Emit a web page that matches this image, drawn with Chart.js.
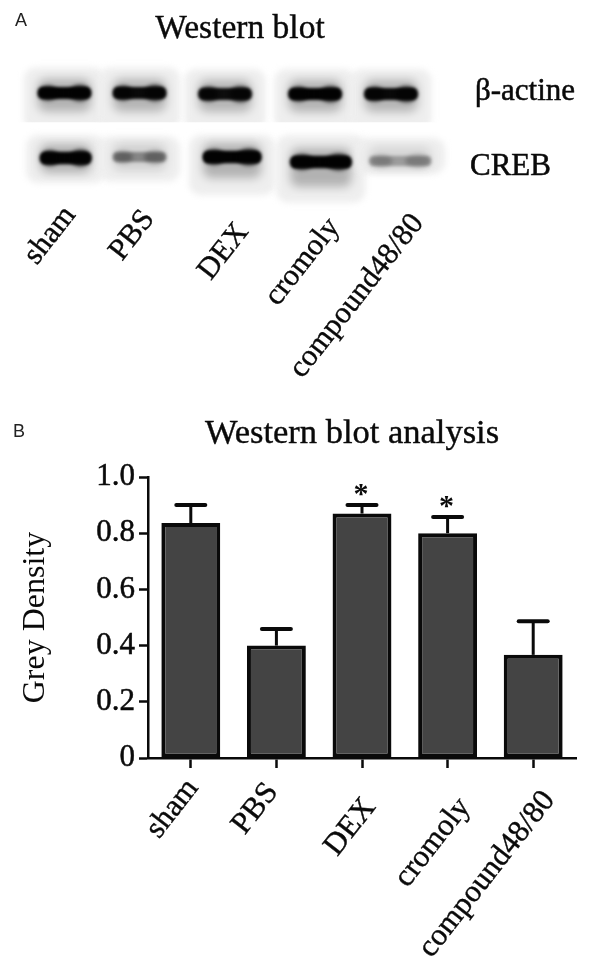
<!DOCTYPE html>
<html><head><meta charset="utf-8">
<style>html,body{margin:0;padding:0;background:#fff}canvas{display:block;position:absolute;left:0}#a{top:0}#b{top:400px}</style>
<script src="https://cdn.jsdelivr.net/npm/chart.js@4/dist/chart.umd.min.js"></script>
</head><body>
<canvas id="a" width="600" height="400"></canvas>
<canvas id="b" width="600" height="569"></canvas>
<script>
const categories = ['sham','PBS','DEX','cromoly','compound48/80'];
const greyDensity = [0.836,0.40,0.87,0.80,0.367];
const errorTop = [0.90,0.459,0.90,0.858,0.487];
const significant = [false,false,true,true,false];
const yTicks = [0,0.2,0.4,0.6,0.8,1.0];
const yTickLabels = ['0','0.2','0.4','0.6','0.8','1.0'];
// blot lanes, gel position in % of blot width/height
const actinLane = [9.5,27.6,48.2,69.9,88.2];
const actinRow = [22,22,22.7,22.7,22.7];
const actinSpan = [13.25,13.25,13.25,13.25,13.25];
const actinSignal = [1,0.96,0.94,1,0.97];
const actinHaloTop = [5,5,6,6,6];
const actinHaloBottom = [41.5,41.5,41.5,41.5,41.5];
const crebLane = [9.8,27.6,49.9,71.3,90.4];
const crebRow = [65.3,64.7,64.7,68,67.3];
const crebSpan = [12.8,13.3,14.5,15.2,15.4];
const crebSignal = [1,0.36,1,1,0.27];
const crebHaloTop = [50,51,50,50,52];
const crebHaloBottom = [82,81,90,95,76];
const rowLabels = ['β-actine','CREB'];

const SERIF = '"Liberation Serif","Times New Roman",serif';
const SANS = '"Liberation Sans",Arial,sans-serif';
const INK = '#0a0a0a';
const LABEL_ANGLE = -52*Math.PI/180;

function text(ctx,s,x,y,font,opt={}){
  ctx.save();ctx.translate(x,y);if(opt.rot)ctx.rotate(opt.rot);
  ctx.font=font;ctx.fillStyle=opt.color||INK;ctx.textAlign=opt.align||'center';ctx.textBaseline=opt.base||'alphabetic';
  ctx.fillText(s,0,0);
  if(opt.heavy){ctx.strokeStyle=opt.color||INK;ctx.lineWidth=opt.heavy;ctx.strokeText(s,0,0);}
  ctx.restore();
}

const blotPlugin={id:'blot',
  beforeDatasetsDraw(chart){
    const ctx=chart.ctx,xs=chart.scales.x,ys=chart.scales.y;
    const pw=v=>xs.getPixelForValue(v)-xs.getPixelForValue(0);
    const halo=(p,w,top,bottom,sig,clip)=>{
      const t=ys.getPixelForValue(top),b=ys.getPixelForValue(bottom);
      ctx.save();
      if(clip){ctx.beginPath();ctx.rect(0,0,600,b);ctx.clip();}
      ctx.filter='blur(3px)';ctx.fillStyle='#eeeeee';
      ctx.beginPath();ctx.roundRect(p.x-w/2-13,t,w+26,(clip?b+8:b)-t,12);ctx.fill();
      ctx.filter='blur(5px)';ctx.fillStyle='rgba(0,0,0,'+(0.2*sig+0.05)+')';
      ctx.beginPath();ctx.roundRect(p.x-w/2+1,p.y-14,w-2,28+(b-t-46)*0.5,8);ctx.fill();
      ctx.restore();
    };
    const band=(p,w,sig,h)=>{
      ctx.save();ctx.filter='blur(1.6px)';
      ctx.globalAlpha=sig;ctx.fillStyle='#030303';
      ctx.beginPath();ctx.roundRect(p.x-w/2+1,p.y-h/2,w-2,h,h/2.4);ctx.fill();
      ctx.restore();
      ctx.save();ctx.filter='blur(2px)';
      ctx.globalAlpha=sig*0.8;ctx.fillStyle='#030303';
      ctx.beginPath();ctx.ellipse(p.x-w*0.3,p.y,w*0.18,h*0.6,0,0,Math.PI*2);ctx.fill();
      ctx.beginPath();ctx.ellipse(p.x+w*0.28,p.y,w*0.2,h*0.66,0,0,Math.PI*2);ctx.fill();
      ctx.restore();
    };
    const a=chart.getDatasetMeta(0).data,c=chart.getDatasetMeta(1).data;
    a.forEach((p,i)=>halo(p,pw(actinSpan[i]),actinHaloTop[i],actinHaloBottom[i],actinSignal[i],true));
    c.forEach((p,i)=>halo(p,pw(crebSpan[i]),crebHaloTop[i],crebHaloBottom[i],crebSignal[i],false));
    a.forEach((p,i)=>band(p,pw(actinSpan[i]),actinSignal[i],12));
    c.forEach((p,i)=>band(p,pw(crebSpan[i]),crebSignal[i],crebSignal[i]<.5?10:12.5));
  },
  afterDraw(chart){
    const ctx=chart.ctx;
    text(ctx,'A',21,26,'18px '+SANS,{color:'#222'});
    text(ctx,'Western blot',240,38,'33.5px '+SERIF,{heavy:.4});
    text(ctx,rowLabels[0],475,100,'31px '+SERIF,{align:'left',heavy:.5});
    text(ctx,rowLabels[1],470,174.5,'31px '+SERIF,{align:'left',heavy:.5});
    const ends=[[70,210],[149,214],[243,227],[334,222],[418,218]];
    categories.forEach((c,i)=>text(ctx,c,ends[i][0],ends[i][1],'30.5px '+SERIF,{align:'right',base:'middle',rot:LABEL_ANGLE,heavy:.4}));
  }
};
new Chart(document.getElementById('a'),{
  type:'scatter',
  data:{datasets:[
    {label:rowLabels[0],data:actinLane.map((x,i)=>({x,y:actinRow[i]})),pointRadius:0},
    {label:rowLabels[1],data:crebLane.map((x,i)=>({x,y:crebRow[i]})),pointRadius:0}
  ]},
  options:{responsive:false,animation:false,
    layout:{padding:{left:25,right:160,top:60,bottom:190}},
    plugins:{legend:{display:false},tooltip:{enabled:false}},
    scales:{x:{type:'linear',display:false,min:0,max:100},y:{type:'linear',display:false,min:0,max:100,reverse:true}}
  },
  plugins:[blotPlugin]
});

const labelNudge=[[2,25],[-4,29],[8,44],[17,44],[16,37]];
const errPlugin={id:'err',
  afterDatasetsDraw(chart){
    const ctx=chart.ctx,ys=chart.scales.y;
    chart.getDatasetMeta(0).data.forEach((b,i)=>{
      const yTop=ys.getPixelForValue(errorTop[i]),yBar=ys.getPixelForValue(greyDensity[i]);
      ctx.save();ctx.strokeStyle=INK;ctx.lineWidth=3;
      ctx.beginPath();ctx.moveTo(b.x,yBar);ctx.lineTo(b.x,yTop);ctx.stroke();
      ctx.lineWidth=4;ctx.lineCap='round';
      ctx.beginPath();ctx.moveTo(b.x-14.5,yTop);ctx.lineTo(b.x+14.5,yTop);ctx.stroke();
      ctx.restore();
      if(significant[i])text(ctx,'*',b.x-1,yTop-2,'bold 30px '+SERIF);
    });
  },
  afterDraw(chart){
    const ctx=chart.ctx,xs=chart.scales.x,ys=chart.scales.y;
    text(ctx,'B',19,37,'18px '+SANS,{color:'#222'});
    text(ctx,'Western blot analysis',352,43,'34.5px '+SERIF,{heavy:.4});
    categories.forEach((c,i)=>text(ctx,c,xs.getPixelForTick(i)+labelNudge[i][0],ys.bottom+labelNudge[i][1],'31px '+SERIF,{align:'right',base:'middle',rot:LABEL_ANGLE,heavy:.4}));
  }
};
new Chart(document.getElementById('b'),{
  type:'bar',
  data:{labels:categories,datasets:[{label:'Grey Density',data:greyDensity,backgroundColor:'#444444',borderColor:INK,borderWidth:4,borderSkipped:false,barPercentage:0.688,categoryPercentage:1}]},
  options:{responsive:false,animation:false,
    layout:{padding:{left:0,right:24,top:77,bottom:0}},
    plugins:{legend:{display:false},tooltip:{enabled:false}},
    scales:{
      x:{type:'category',offset:true,
        afterFit(s){s.height=211;},
        border:{color:INK,width:2.5},
        grid:{display:true,drawOnChartArea:false,drawTicks:true,tickLength:10,tickWidth:2.5,tickColor:INK,offset:false},
        ticks:{display:false}
      },
      y:{type:'linear',min:0,max:1,
        afterFit(s){s.width=148;},
        afterBuildTicks(s){s.ticks=yTicks.map(v=>({value:v}));},
        border:{color:INK,width:2.5},
        grid:{display:true,drawOnChartArea:false,drawTicks:true,tickLength:9,tickWidth:2.5,tickColor:INK},
        ticks:{color:INK,font:{family:SERIF,size:31},padding:4,textStrokeWidth:.5,textStrokeColor:INK,callback:(v,i)=>yTickLabels[i]},
        title:{display:true,text:'Grey Density',color:INK,font:{family:SERIF,size:32},padding:{top:16,bottom:0}}
      }
    }
  },
  plugins:[errPlugin]
});
</script>
</body></html>
